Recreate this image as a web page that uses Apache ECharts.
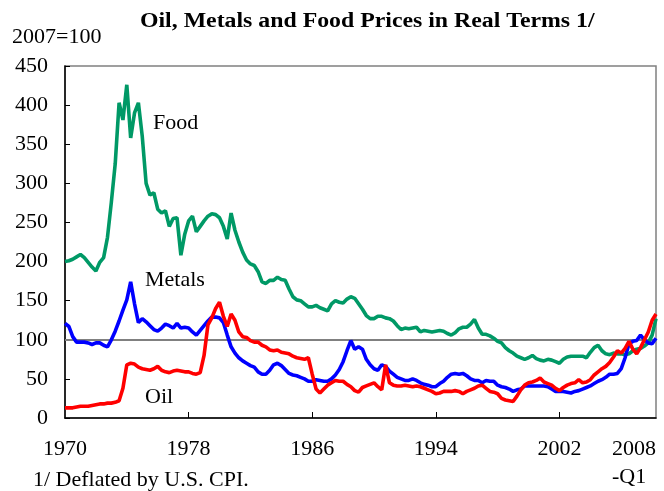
<!DOCTYPE html>
<html>
<head>
<meta charset="utf-8">
<script src="https://cdn.jsdelivr.net/npm/echarts@6/dist/echarts.min.js"></script>
<style>html,body{margin:0;padding:0;background:#fff}#c{width:664px;height:491px}</style>
</head>
<body>
<div id="c"></div>
<script>
// Quarterly categories 1970Q1 ..
const startYear = 1970;
const nPoints = 154;
const categories = [];
for (let i = 0; i < nPoints; i++) categories.push((startYear + Math.floor(i / 4)) + 'Q' + (i % 4 + 1));

const tickYears = ['1970', '1978', '1986', '1994', '2002'];
const lastLabel = ['2008', '-Q1'];

const food = [
200, 201, 203, 206, 209, 205, 199, 193, 188, 199, 205, 231,
276, 325, 403, 381, 426, 358, 390, 403, 360, 300, 285, 288,
267, 262, 265, 245, 255, 256, 208, 235, 252, 258, 238, 245,
252, 258, 261, 260, 256, 245, 229, 262, 240, 225, 212, 202,
197, 195, 187, 174, 172, 176, 176, 180, 177, 176, 165, 155,
151, 150, 146, 142, 142, 144, 141, 139, 137, 146, 150, 148,
147, 152, 155, 153, 146, 139, 131, 127, 127, 130, 130, 128,
127, 124, 118, 113, 115, 114, 115, 116, 110, 112, 111, 110,
111, 112, 111, 108, 106, 109, 114, 116, 116, 120, 126, 115,
107, 107, 105, 102, 98, 96, 90, 86, 83, 79, 77, 75,
77, 80, 76, 74, 73, 75, 74, 72, 70, 75, 78, 79,
79, 79, 79, 77, 84, 90, 93, 86, 82, 81, 83, 82,
82, 81, 82, 86, 88, 89, 92, 96, 106, 127
];

const metals = [
121, 117, 104, 97, 97, 97, 96, 94, 96, 96, 93, 91,
100, 111, 124, 138, 151, 174, 146, 122, 127, 123, 118, 113,
111, 115, 120, 118, 115, 121, 115, 116, 115, 110, 106, 112,
118, 124, 129, 129, 128, 122, 106, 91, 83, 77, 73, 70,
67, 65, 59, 56, 56, 61, 68, 70, 67, 62, 57, 55,
54, 52, 50, 47, 47, 49, 48, 47, 47, 50, 55, 62,
72, 86, 99, 88, 91, 88, 75, 68, 63, 61, 68, 66,
60, 56, 52, 50, 48, 48, 50, 48, 45, 43, 42, 40,
40, 44, 47, 52, 56, 57, 56, 57, 54, 50, 48, 48,
45, 48, 47, 47, 42, 40, 39, 37, 34, 36, 37, 41,
41, 41, 41, 41, 41, 40, 37, 34, 34, 34, 33, 32,
34, 35, 37, 39, 41, 44, 47, 49, 52, 56, 56, 57,
63, 77, 95, 98, 99, 106, 100, 96, 95, 102
];

const oil = [
13, 13, 13, 14, 15, 15, 15, 16, 17, 18, 18, 19,
19, 20, 22, 38, 68, 70, 69, 65, 63, 62, 61, 63,
66, 61, 59, 58, 60, 61, 60, 59, 59, 57, 56, 58,
80, 119, 128, 140, 148, 130, 117, 133, 125, 110, 104, 103,
99, 97, 97, 93, 91, 87, 86, 87, 84, 83, 82, 79,
77, 76, 75, 77, 56, 37, 32, 37, 42, 45, 48, 47,
47, 43, 40, 35, 33, 39, 41, 43, 45, 40, 36, 68,
45, 42, 41, 41, 42, 41, 40, 41, 40, 38, 36, 34,
31, 32, 34, 34, 34, 35, 34, 31, 34, 36, 38, 41,
42, 38, 34, 33, 31, 25, 23, 22, 21, 28, 36, 42,
45, 46, 48, 51, 46, 44, 42, 38, 35, 39, 42, 44,
45, 49, 45, 46, 49, 55, 59, 63, 66, 71, 78, 86,
83, 89, 98, 88, 82, 90, 100, 110, 125, 133
];

const baseLine = 100;
const yTicks = { min: 0, max: 450, interval: 50 };

const SERIF = "'Liberation Serif', 'Times New Roman', serif";
const chart = echarts.init(document.getElementById('c'), null, { renderer: 'canvas' });

function isTickIdx(i) { return i > 0 && i % 32 === 0 && i <= 128; }

chart.setOption({
  animation: false,
  backgroundColor: '#ffffff',
  grid: { left: 65, right: 8, top: 66, bottom: 70, show: true, borderColor: '#808080', borderWidth: 1.5, containLabel: false },
  xAxis: {
    type: 'category',
    data: categories,
    boundaryGap: false,
    axisLine: { lineStyle: { color: '#000', width: 1.5 } },
    axisTick: { inside: true, length: 6, lineStyle: { color: '#000', width: 1 }, interval: function (i) { return isTickIdx(i); } },
    axisLabel: {
      interval: function (i) { return i % 32 === 0 && i <= 128 || i === nPoints - 1; },
      formatter: function (v, i) {
        if (i === nPoints - 1) return '{a|' + lastLabel[0] + '}\n{b|' + lastLabel[1] + '}';
        return tickYears[i / 32];
      },
      alignMaxLabel: 'right',
      margin: 17,
      lineHeight: 28,
      fontFamily: SERIF, fontSize: 22, color: '#000',
      rich: {
        a: { fontFamily: SERIF, fontSize: 22, color: '#000', lineHeight: 28, align: 'right' },
        b: { fontFamily: SERIF, fontSize: 22, color: '#000', lineHeight: 28, align: 'left' }
      }
    },
    splitLine: { show: false }
  },
  yAxis: {
    type: 'value',
    min: yTicks.min, max: yTicks.max, interval: yTicks.interval,
    axisLine: { show: true, lineStyle: { color: '#000', width: 1.5 } },
    axisTick: { show: true, inside: true, length: 5, lineStyle: { color: '#000' } },
    axisLabel: { fontFamily: SERIF, fontSize: 22, color: '#000', margin: 17 },
    splitLine: { show: false }
  },
  series: [
    {
      name: 'Food', type: 'line', data: food, showSymbol: false, smooth: false,
      lineStyle: { color: '#009966', width: 3.6 }, itemStyle: { color: '#009966' }, z: 3,
      markLine: {
        silent: true, symbol: 'none', label: { show: false },
        lineStyle: { color: '#808080', width: 2, type: 'solid' },
        data: [{ yAxis: baseLine }], z: 2
      }
    },
    { name: 'Metals', type: 'line', data: metals, showSymbol: false, smooth: false,
      lineStyle: { color: '#0000ff', width: 3.6 }, itemStyle: { color: '#0000ff' }, z: 4 },
    { name: 'Oil', type: 'line', data: oil, showSymbol: false, smooth: false,
      lineStyle: { color: '#ff0000', width: 3.6 }, itemStyle: { color: '#ff0000' }, z: 5 }
  ],
  graphic: [
    { type: 'text', x: 140, y: 21.5, scaleX: 1.19, style: { text: 'Oil, Metals and Food Prices in Real Terms 1/', fontFamily: SERIF, fontWeight: 'bold', fontSize: 20, fill: '#000', textAlign: 'left', textVerticalAlign: 'middle' } },
    { type: 'text', x: 12, y: 37, style: { text: '2007=100', fontFamily: SERIF, fontSize: 22, fill: '#000', textAlign: 'left', textVerticalAlign: 'middle' } },
    { type: 'text', x: 153, y: 123, style: { text: 'Food', fontFamily: SERIF, fontSize: 22, fill: '#000', textAlign: 'left', textVerticalAlign: 'middle' }, z: 10 },
    { type: 'text', x: 145, y: 280, style: { text: 'Metals', fontFamily: SERIF, fontSize: 22, fill: '#000', textAlign: 'left', textVerticalAlign: 'middle' }, z: 10 },
    { type: 'text', x: 145, y: 397, style: { text: 'Oil', fontFamily: SERIF, fontSize: 22, fill: '#000', textAlign: 'left', textVerticalAlign: 'middle' }, z: 10 },
    { type: 'text', x: 33, y: 480, style: { text: '1/ Deflated by U.S. CPI.', fontFamily: SERIF, fontSize: 22, fill: '#000', textAlign: 'left', textVerticalAlign: 'middle' } }
  ]
});
</script>
</body>
</html>
